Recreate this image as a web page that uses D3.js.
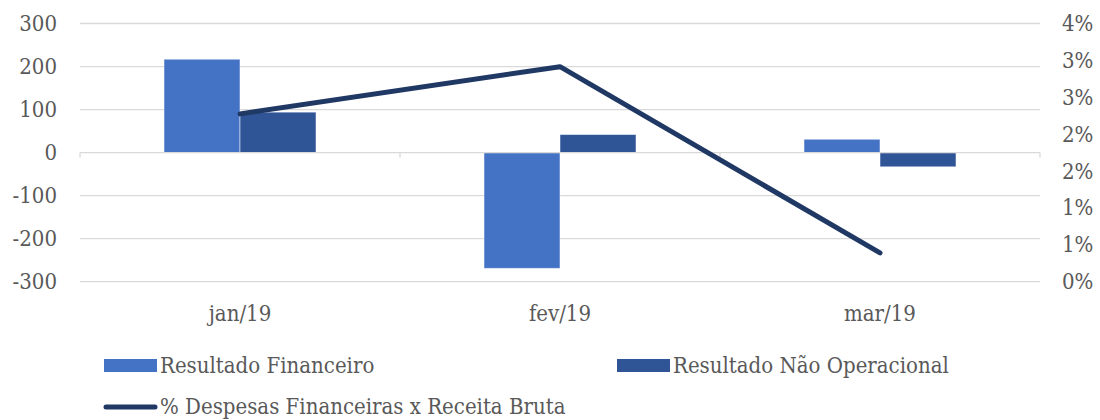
<!DOCTYPE html>
<meta charset="utf-8">
<script src="https://d3js.org/d3.v7.min.js"></script>
<style>
  body { margin: 0; background: #fff; }
</style>
<div id="my_dataviz"></div>
<script>
// data
var months = ["jan/19", "fev/19", "mar/19"]
var resultadoFinanceiro = [217, -269, 31]
var resultadoNaoOperacional = [94, 42, -33]
var despesasPct = [0.02275, 0.02915, 0.0039]
var leftTicks = [-300, -200, -100, 0, 100, 200, 300]
var rightTicks = [0, 0.005, 0.01, 0.015, 0.02, 0.025, 0.03, 0.035]

var seriesNames = ["Resultado Financeiro", "Resultado Não Operacional", "% Despesas Financeiras x Receita Bruta"]
var colors = ["#4472c4", "#2f5597", "#203864"]

var font = "'DejaVu Serif Condensed', 'DejaVu Serif', serif"
var fontSize = "22px"
var textColor = "#595959"

var width = 1100, height = 420
var plot = {left: 80, right: 1040, top: 23.5, bottom: 281.7}

var svg = d3.select("#my_dataviz")
  .append("svg")
    .attr("width", width)
    .attr("height", height)

var x = d3.scaleBand()
  .domain(months)
  .range([plot.left, plot.right])
  .paddingInner(0)
  .paddingOuter(0)

var xInner = d3.scaleBand()
  .domain([0, 1])
  .range([0, 152])

var y = d3.scaleLinear()
  .domain([-300, 300])
  .range([plot.bottom, plot.top])

var y2 = d3.scaleLinear()
  .domain([0, 0.035])
  .range([plot.bottom, plot.top])

// gridlines
svg.append("g")
  .selectAll("line")
  .data(leftTicks.filter(function(d){ return d != 0 }))
  .enter().append("line")
    .attr("x1", plot.left).attr("x2", plot.right)
    .attr("y1", function(d){ return y(d) }).attr("y2", function(d){ return y(d) })
    .style("stroke", "#d9d9d9").style("stroke-width", 1.3)

// left axis (plain hyphen for negatives, like the original)
var gl = svg.append("g")
  .attr("transform", "translate(" + (plot.left - 23) + ",0)")
  .call(d3.axisLeft(y).tickValues(leftTicks).tickFormat(function(d){ return String(d) }).tickSize(0).tickPadding(0))
gl.select(".domain").remove()
gl.attr("font-family", font)
gl.selectAll("text")
  .style("font-family", font).style("font-size", fontSize).attr("fill", textColor)

// right axis, Excel rounds the 0.5% steps to whole percent
var pctFmt = function(d) { return Math.round(d * 100 + 1e-9) + "%" }
var gr = svg.append("g")
  .attr("transform", "translate(" + (plot.right + 22) + ",0)")
  .call(d3.axisRight(y2).tickValues(rightTicks).tickFormat(pctFmt).tickSize(0).tickPadding(0))
gr.select(".domain").remove()
gr.attr("font-family", font)
gr.selectAll("text")
  .style("font-family", font).style("font-size", fontSize).attr("fill", textColor)

// bars
var bars = svg.append("g")
months.forEach(function(m, i) {
  var vals = [resultadoFinanceiro[i], resultadoNaoOperacional[i]]
  vals.forEach(function(v, j) {
    var x0 = x(m) + (x.bandwidth() - 152) / 2 + xInner(j)
    bars.append("rect")
      .attr("x", x0)
      .attr("y", y(Math.max(0, v)))
      .attr("width", xInner.bandwidth())
      .attr("height", Math.abs(y(v) - y(0)))
      .style("fill", colors[j])
      .style("stroke", "#ffffff")
      .style("stroke-opacity", 0.5)
      .style("stroke-width", 1)
  })
})

// zero axis with tick marks at category boundaries
svg.append("line")
  .attr("x1", plot.left).attr("x2", plot.right)
  .attr("y1", y(0)).attr("y2", y(0))
  .style("stroke", "#d9d9d9").style("stroke-width", 1.3)
svg.append("g")
  .selectAll("line")
  .data(months.concat(["end"]))
  .enter().append("line")
    .attr("x1", function(d, i){ return plot.left + i * x.bandwidth() })
    .attr("x2", function(d, i){ return plot.left + i * x.bandwidth() })
    .attr("y1", y(0)).attr("y2", y(0) + 5)
    .style("stroke", "#d9d9d9").style("stroke-width", 1.3)

// category labels
svg.append("g")
  .selectAll("text")
  .data(months)
  .enter().append("text")
    .attr("x", function(d){ return x(d) + x.bandwidth() / 2 })
    .attr("y", 321)
    .attr("text-anchor", "middle")
    .style("font-family", font)
    .style("font-size", fontSize)
    .style("fill", textColor)
    .text(function(d){ return d })

// line
var line = d3.line()
  .x(function(d, i){ return x(months[i]) + x.bandwidth() / 2 })
  .y(function(d){ return y2(d) })
svg.append("path")
  .datum(despesasPct)
  .attr("d", line)
  .style("fill", "none")
  .style("stroke", colors[2])
  .style("stroke-width", 5)
  .style("stroke-linecap", "round")
  .style("stroke-linejoin", "round")

// legend
var legendItems = [
  {name: seriesNames[0], color: colors[0], x: 104, y: 366, type: "rect"},
  {name: seriesNames[1], color: colors[1], x: 617, y: 366, type: "rect"},
  {name: seriesNames[2], color: colors[2], x: 104, y: 407, type: "line"}
]
legendItems.forEach(function(d) {
  if (d.type == "rect") {
    svg.append("rect")
      .attr("x", d.x).attr("y", d.y - 7)
      .attr("width", 53).attr("height", 13)
      .style("fill", d.color)
  } else {
    svg.append("line")
      .attr("x1", d.x + 2).attr("x2", d.x + 51)
      .attr("y1", d.y).attr("y2", d.y)
      .style("stroke", d.color).style("stroke-width", 5)
      .style("stroke-linecap", "round")
  }
  svg.append("text")
    .attr("x", d.x + 56)
    .attr("y", d.y + 7)
    .style("font-family", font)
    .style("font-size", fontSize)
    .style("fill", textColor)
    .text(d.name)
})
</script>
